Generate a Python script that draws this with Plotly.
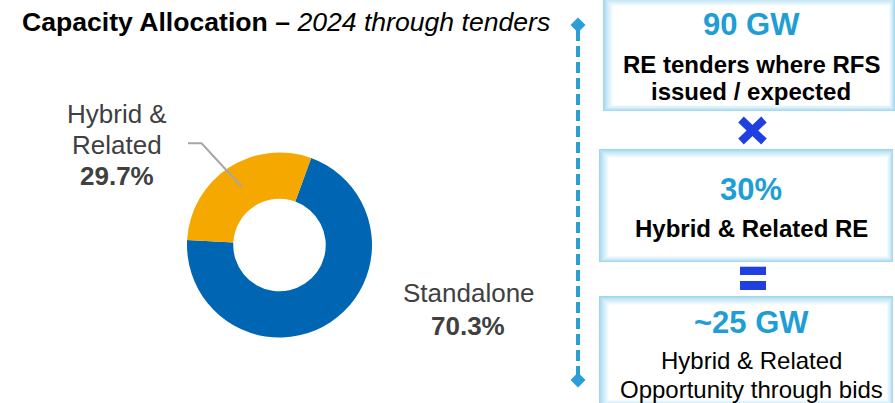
import plotly.graph_objects as go

W, H = 895, 403

# ---- data ----
categories = ["Standalone", "Hybrid & Related"]
shares = [70.3, 29.7]
slice_colors = ["#0066B3", "#F5A800"]

title_bold = "Capacity Allocation –"
title_italic = "2024 through tenders"

box_headlines = ["90 GW", "30%", "~25 GW"]
box_captions = [
    ["RE tenders where RFS", "issued / expected"],
    ["Hybrid & Related RE"],
    ["Hybrid & Related", "Opportunity through bids"],
]
box_caption_bold = [True, True, False]


def px(x):
    return x / W


def py(y):
    return 1 - y / H


fig = go.Figure()

# donut
cx, cy, r = 279.5, 245.0, 92.5
fig.add_trace(go.Pie(
    labels=categories,
    values=shares,
    hole=0.5,
    sort=False,
    direction="clockwise",
    rotation=20,
    marker=dict(colors=slice_colors, line=dict(width=0)),
    textinfo="none",
    hoverinfo="label+percent",
    domain=dict(x=[px(cx - r), px(cx + r)], y=[py(cy + r), py(cy - r)]),
    showlegend=False,
))

shapes = []
annotations = []

FONT = "Liberation Sans, Arial, sans-serif"
LABEL_GREY = "#404040"

# title
annotations.append(dict(
    x=px(20), y=py(22), xref="paper", yref="paper", xanchor="left", yanchor="middle",
    text=f"<b>{title_bold}</b> <i>{title_italic}</i>", showarrow=False,
    font=dict(family=FONT, size=26.6, color="#000000"),
))

# pie labels
hyb_words = categories[1].split(" ")
hyb_lines = [" ".join(hyb_words[:2]), " ".join(hyb_words[2:])]
for txt, yy in zip(hyb_lines, [114, 145]):
    annotations.append(dict(x=px(117), y=py(yy), xref="paper", yref="paper",
                            xanchor="center", yanchor="middle", text=txt, showarrow=False,
                            font=dict(family=FONT, size=26, color=LABEL_GREY)))
annotations.append(dict(x=px(117), y=py(175.5), xref="paper", yref="paper",
                        xanchor="center", yanchor="middle", text=f"<b>{shares[1]:.1f}%</b>",
                        showarrow=False, font=dict(family=FONT, size=26, color=LABEL_GREY)))
annotations.append(dict(x=px(469), y=py(293), xref="paper", yref="paper",
                        xanchor="center", yanchor="middle", text=categories[0], showarrow=False,
                        font=dict(family=FONT, size=26, color=LABEL_GREY)))
annotations.append(dict(x=px(468), y=py(326), xref="paper", yref="paper",
                        xanchor="center", yanchor="middle", text=f"<b>{shares[0]:.1f}%</b>",
                        showarrow=False, font=dict(family=FONT, size=26, color=LABEL_GREY)))

# leader line
shapes.append(dict(type="path", xref="paper", yref="paper",
                   path=f"M {px(188)} {py(143.3)} L {px(201.5)} {py(143.3)} L {px(241.7)} {py(186.7)}",
                   line=dict(color="#A6A6A6", width=2)))

# dashed vertical timeline
LINE_BLUE = "#2A9FD6"
shapes.append(dict(type="line", xref="paper", yref="paper",
                   x0=px(578), x1=px(578), y0=py(30), y1=py(376),
                   line=dict(color=LINE_BLUE, width=4, dash="11px,5px")))
for dy in (25, 380):
    d = 7.5
    shapes.append(dict(type="path", xref="paper", yref="paper",
                       path=(f"M {px(578)} {py(dy - d)} L {px(578 + d)} {py(dy)} "
                             f"L {px(578)} {py(dy + d)} L {px(578 - d)} {py(dy)} Z"),
                       fillcolor=LINE_BLUE, line=dict(width=0)))


# boxes with soft inner glow
def mix(c1, c2, t):
    a = [int(c1[i:i + 2], 16) for i in (1, 3, 5)]
    b = [int(c2[i:i + 2], 16) for i in (1, 3, 5)]
    m = [round(a[i] + (b[i] - a[i]) * t) for i in range(3)]
    return "#%02x%02x%02x" % tuple(m)


EDGE = "#9ED6EF"
boxes = [(603, -3, 895, 111), (599, 149, 893, 262), (599, 296, 893, 406)]
N = 10
for (x0, y0, x1, y1) in boxes:
    for k in range(N + 1):
        t = (k / N) ** 0.8
        col = mix(EDGE, "#FFFFFF", t)
        shapes.append(dict(type="rect", xref="paper", yref="paper",
                           x0=px(x0 + k), x1=px(x1 - k * 0.6), y0=py(y1 - k * 0.6), y1=py(y0 + k * 0.9),
                           fillcolor=col, line=dict(width=0), layer="below"))

NUM_BLUE = "#1F9ED5"
head_y = [24.5, 189, 322.5]
cap_y = [[65, 92], [228], [360, 389]]
for i in range(3):
    annotations.append(dict(x=px(751), y=py(head_y[i]), xref="paper", yref="paper",
                            xanchor="center", yanchor="middle", text=f"<b>{box_headlines[i]}</b>",
                            showarrow=False, font=dict(family=FONT, size=31, color=NUM_BLUE)))
    for txt, yy in zip(box_captions[i], cap_y[i]):
        t = f"<b>{txt}</b>" if box_caption_bold[i] else txt
        annotations.append(dict(x=px(751), y=py(yy), xref="paper", yref="paper",
                                xanchor="center", yanchor="middle", text=t, showarrow=False,
                                font=dict(family=FONT, size=24, color="#000000")))

# multiply sign
OP_BLUE = "#1F3FE0"
shapes.append(dict(type="line", xref="paper", yref="paper", x0=px(741), y0=py(119.5),
                   x1=px(764), y1=py(141.5), line=dict(color=OP_BLUE, width=8)))
shapes.append(dict(type="line", xref="paper", yref="paper", x0=px(741), y0=py(141.5),
                   x1=px(764), y1=py(119.5), line=dict(color=OP_BLUE, width=8)))
# equals sign
for (a, b) in [(266.7, 275), (281, 290)]:
    shapes.append(dict(type="rect", xref="paper", yref="paper", x0=px(740), x1=px(766),
                       y0=py(b), y1=py(a), fillcolor=OP_BLUE, line=dict(width=0)))

fig.update_layout(
    width=W, height=H,
    margin=dict(l=0, r=0, t=0, b=0),
    paper_bgcolor="#FFFFFF", plot_bgcolor="#FFFFFF",
    shapes=shapes, annotations=annotations,
    showlegend=False,
)

fig.write_html("out.html", config={"displayModeBar": False},
               post_script="document.body.style.margin='0';document.body.style.padding='0';"
                           "document.documentElement.style.overflow='hidden';")
